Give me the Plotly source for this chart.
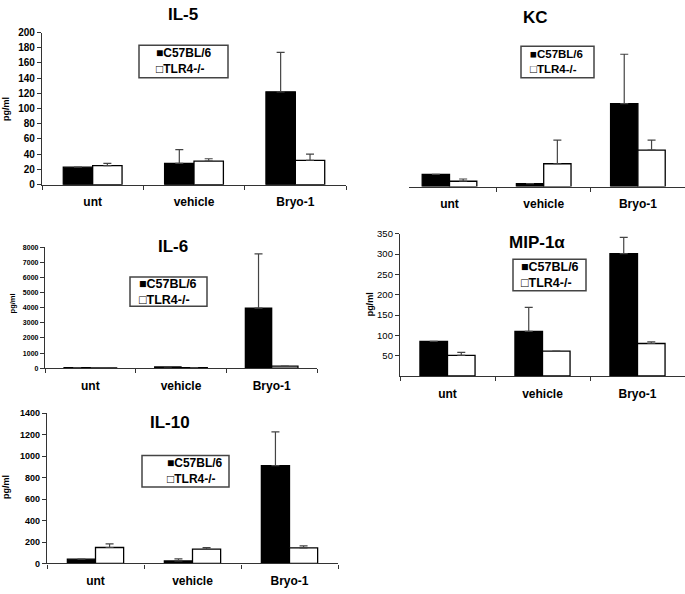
import plotly.graph_objects as go

W, H = 685, 594

categories = ["unt", "vehicle", "Bryo-1"]
strains = ["C57BL/6", "TLR4-/-"]

# IL-5 (pg/ml)
il5_c57 = [23, 28, 122]
il5_c57_err = [0, 18, 52]
il5_tlr4 = [25, 31, 32]
il5_tlr4_err = [3, 3, 8]

# KC (no y axis shown in the original)
kc_c57 = [16, 4, 109]
kc_c57_err = [0, 0, 65]
kc_tlr4 = [7, 30, 48]
kc_tlr4_err = [3, 31, 13]

# IL-6 (pg/ml)
il6_c57 = [30, 80, 3980]
il6_c57_err = [0, 0, 3600]
il6_tlr4 = [20, 40, 130]
il6_tlr4_err = [0, 0, 0]

# MIP-1alpha (pg/ml)
mip_c57 = [85, 110, 301]
mip_c57_err = [0, 59, 40]
mip_tlr4 = [51, 61, 80]
mip_tlr4_err = [7, 0, 4]

# IL-10 (pg/ml)
il10_c57 = [40, 24, 913]
il10_c57_err = [0, 19, 313]
il10_tlr4 = [149, 134, 146]
il10_tlr4_err = [34, 15, 18]

FONT = "Liberation Sans"
AXC = "#333333"


def px_x(v):
    return v / W


def px_y(v):
    return 1 - v / H


panels = [
    dict(title="IL-5", c=il5_c57, ce=il5_c57_err, t=il5_tlr4, te=il5_tlr4_err,
         xd=(42, 346), yd=(27, 182), yr=[0, 200], tv=list(range(0, 201, 20)), tf=10, tb=True,
         showy=True, xr=[-0.5, 2.5], tp=(183, 9), box=(139, 40, 228, 73), tx=154, lf=12,
         yt=(6, 105, 9)),
    dict(title="KC", c=kc_c57, ce=kc_c57_err, t=kc_tlr4, te=kc_tlr4_err,
         xd=(409, 685), yd=(29, 184), yr=[0, 200], tv=None, tf=10, tb=True,
         showy=False, xr=[-0.43, 2.5], tp=(535, 12), box=(521, 41, 594, 73), tx=528, lf=11.5,
         yt=None),
    dict(title="IL-6", c=il6_c57, ce=il6_c57_err, t=il6_tlr4, te=il6_tlr4_err,
         xd=(45, 317), yd=(246, 369), yr=[0, 8000], tv=list(range(0, 8001, 1000)), tf=7, tb=True,
         showy=True, xr=[-0.5, 2.5], tp=(173, 245), box=(130, 276, 207, 306), tx=137, lf=12.5,
         yt=(12, 303, 7.5)),
    dict(title="MIP-1α", c=mip_c57, ce=mip_c57_err, t=mip_tlr4, te=mip_tlr4_err,
         xd=(400, 685), yd=(232, 377), yr=[0, 350], tv=list(range(50, 351, 50)), tf=9.5, tb=False,
         showy=True, xr=[-0.5, 2.5], tp=(537, 241), box=(513, 258, 586, 290), tx=519, lf=12.5,
         yt=(370, 304, 9)),
    dict(title="IL-10", c=il10_c57, ce=il10_c57_err, t=il10_tlr4, te=il10_tlr4_err,
         xd=(47, 338), yd=(415, 568), yr=[0, 1400], tv=list(range(0, 1401, 200)), tf=9, tb=True,
         showy=True, xr=[-0.5, 2.5], tp=(170, 424), box=(142, 458, 229, 490), tx=165, lf=12,
         yt=(6, 490, 9)),
]

fig = go.Figure()
layout = dict(
    width=W, height=H, margin=dict(l=0, r=0, t=0, b=0),
    paper_bgcolor="white", plot_bgcolor="white",
    barmode="group", bargap=0.42, bargroupgap=0,
    font=dict(family=FONT, color="black"),
    annotations=[], shapes=[], showlegend=False,
)

legend_text = f"■{strains[0]}<br>□{strains[1]}"

for i, p in enumerate(panels, start=1):
    sfx = "" if i == 1 else str(i)
    xa, ya = f"x{sfx}", f"y{sfx}"
    for name, vals, errs, fill in [(strains[0], p["c"], p["ce"], "black"),
                                   (strains[1], p["t"], p["te"], "white")]:
        fig.add_trace(go.Bar(
            x=categories, y=vals, name=name, xaxis=xa, yaxis=ya,
            marker=dict(color=fill, line=dict(color="black", width=1.3)),
            error_y=dict(type="data", array=errs, arrayminus=[0] * len(errs), symmetric=False,
                         color="#444444", thickness=1.2, width=4),
            showlegend=False,
        ))
    layout[f"xaxis{sfx}"] = dict(
        domain=[px_x(p["xd"][0]), px_x(p["xd"][1])], anchor=ya, type="category",
        range=p["xr"], showline=True, linecolor=AXC, linewidth=1.3,
        ticks="outside", tickson="boundaries", ticklen=4, tickcolor=AXC, tickwidth=1,
        tickfont=dict(size=12, family=FONT, weight="bold", color="black"),
        ticklabelstandoff=6, showgrid=False, zeroline=False, fixedrange=True,
    )
    ydict = dict(
        domain=[px_y(p["yd"][1]), px_y(p["yd"][0])], anchor=xa, range=p["yr"],
        showgrid=False, zeroline=False, fixedrange=True,
    )
    if p["showy"]:
        ydict.update(showline=True, linecolor=AXC, linewidth=1.3, ticks="outside", ticklen=4,
                     tickcolor=AXC, tickvals=p["tv"],
                     tickfont=dict(size=p["tf"], family=FONT,
                                   weight="bold" if p["tb"] else "normal", color="black"))
    else:
        ydict.update(visible=False)
    layout[f"yaxis{sfx}"] = ydict

    # legend box + entries
    bx0, by0, bx1, by1 = p["box"]
    layout["shapes"].append(dict(
        type="rect", xref="paper", yref="paper",
        x0=px_x(bx0), x1=px_x(bx1), y0=px_y(by1), y1=px_y(by0),
        line=dict(color="#444444", width=1.5), fillcolor="white", layer="above",
    ))
    layout["annotations"].append(dict(
        text=legend_text, x=px_x(p["tx"]), y=px_y((by0 + by1) / 2), xref="paper", yref="paper",
        showarrow=False, xanchor="left", yanchor="middle", align="left",
        font=dict(size=p["lf"], family=FONT, weight="bold", color="black"),
    ))

    layout["annotations"].append(dict(
        text=p["title"], x=px_x(p["tp"][0]), y=px_y(p["tp"][1]), xref="paper", yref="paper",
        showarrow=False, xanchor="center", yanchor="middle",
        font=dict(size=17, family=FONT, weight="bold", color="black"),
    ))
    if p["yt"]:
        layout["annotations"].append(dict(
            text="pg/ml", x=px_x(p["yt"][0]), y=px_y(p["yt"][1]), xref="paper", yref="paper",
            showarrow=False, xanchor="center", yanchor="middle", textangle=-90,
            font=dict(size=p["yt"][2], family=FONT, weight="bold", color="black"),
        ))

fig.update_layout(**layout)
fig.write_html(
    "out.html",
    config={"displayModeBar": False},
    post_script="document.body.style.margin='0px';document.body.style.padding='0px';",
)
